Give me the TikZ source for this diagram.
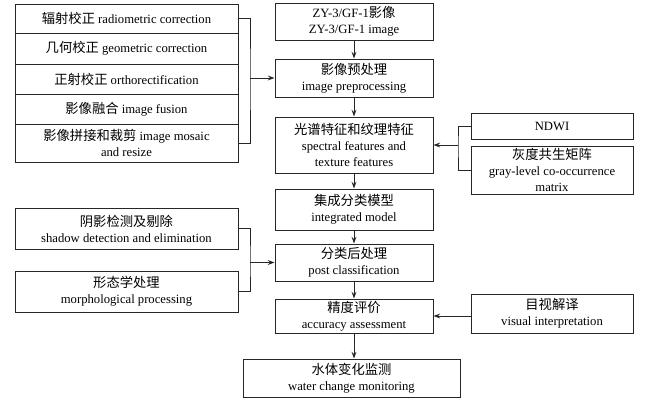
\documentclass[tikz,border=0pt]{standalone}
\usepackage{fontspec}
\setmainfont{Liberation Serif}
\newfontfamily\cjk[Scale=1.05]{Noto Sans CJK SC}
\newcommand{\zh}[1]{{\cjk #1}}
\usetikzlibrary{arrows.meta}

\begin{document}
\begin{tikzpicture}[x=0.75pt,y=-0.75pt,line width=0.75pt,
  box/.style={draw=black!85, inner sep=0pt, align=center, font=\fontsize{9.5}{12}\selectfont},
  link/.style={black!85},
  >={Stealth[length=5pt,width=3.6pt]}]
\useasboundingbox (0,0) rectangle (650,404);
% preprocessing steps
\node [box, minimum width=167.25pt, minimum height=21.75pt] (rad) at (126.5,18.5) {\zh{辐射校正} radiometric correction};
\node [box, minimum width=167.25pt, minimum height=23.25pt] (geo) at (126.5,48.5) {\zh{几何校正} geometric correction};
\node [box, minimum width=167.25pt, minimum height=22.5pt] (ortho) at (126.5,79) {\zh{正射校正} orthorectification};
\node [box, minimum width=167.25pt, minimum height=22.5pt] (fus) at (126.5,109) {\zh{影像融合} image fusion};
\node [box, minimum width=167.25pt, minimum height=28.5pt] (mos) at (126.5,143) {\zh{影像拼接和裁剪} image mosaic\\and resize};
% main column
\node [box, minimum width=118.5pt, minimum height=27.75pt] (zy) at (354,21.5) {ZY-3/GF-1\zh{影像}\\ZY-3/GF-1 image};
\node [box, minimum width=118.5pt, minimum height=28.5pt] (pre) at (354,78) {\zh{影像预处理}\\image preprocessing};
\node [box, minimum width=118.5pt, minimum height=42pt] (feat) at (354,145) {\zh{光谱特征和纹理特征}\\spectral features and\\texture features};
\node [box, minimum width=118.5pt, minimum height=30.75pt] (model) at (354,209.5) {\zh{集成分类模型}\\integrated model};
\node [box, minimum width=118.5pt, minimum height=27.75pt] (post) at (354,262.5) {\zh{分类后处理}\\post classification};
\node [box, minimum width=118.5pt, minimum height=25.5pt] (acc) at (354,316) {\zh{精度评价}\\accuracy assessment};
\node [box, minimum width=162.75pt, minimum height=28.5pt] (water) at (351.5,378) {\zh{水体变化监测}\\water change monitoring};
% right side
\node [box, minimum width=121.5pt, minimum height=19.5pt] (ndwi) at (552,126) {NDWI};
\node [box, minimum width=121.5pt, minimum height=36pt] (glcm) at (552,170) {\zh{灰度共生矩阵}\\gray-level co-occurrence\\matrix};
\node [box, minimum width=121.5pt, minimum height=29.25pt] (vis) at (552,313.5) {\zh{目视解译}\\visual interpretation};
% post classification steps
\node [box, minimum width=167.25pt, minimum height=30.75pt] (shad) at (126.5,228.5) {\zh{阴影检测及剔除}\\shadow detection and elimination};
\node [box, minimum width=167.25pt, minimum height=30.75pt] (morph) at (126.5,291.5) {\zh{形态学处理}\\morphological processing};
% brackets
\coordinate (j1) at (250,78);
\coordinate (j2) at (250,262.5);
\coordinate (j3) at (458,145);
\draw [link] (rad.east) -| (j1) |- (mos.east);
\draw [link,->] (j1) -- (pre);
\draw [link] (shad.east) -| (j2) |- (morph.east);
\draw [link,->] (j2) -- (post);
\draw [link] (ndwi.west) -| (j3) |- (glcm.west);
\draw [link,->] (j3) -- (feat);
% main flow
\draw [link,->] (zy) -- (pre);
\draw [link,->] (pre) -- (feat);
\draw [link,->] (feat) -- (model);
\draw [link,->] (model) -- (post);
\draw [link,->] (post) -- (acc);
\draw [link,->] (acc) -- (acc |- water.north);
\draw [link,->] (vis.west |- acc) -- (acc);
\end{tikzpicture}
\end{document}
